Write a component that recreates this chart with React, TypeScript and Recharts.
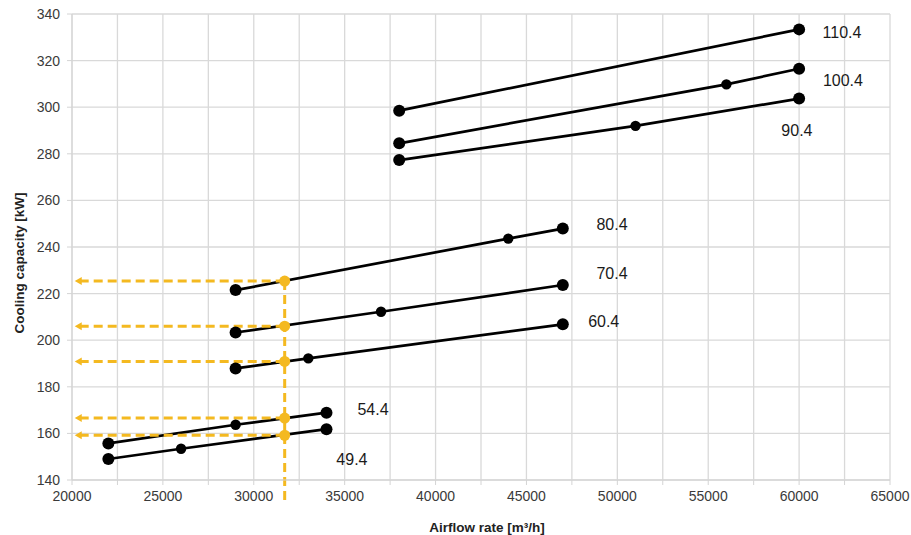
import {
  CartesianGrid,
  Line,
  LineChart,
  ReferenceDot,
  ReferenceLine,
  XAxis,
  YAxis,
} from "recharts";

const FONT = '"Liberation Sans", Arial, sans-serif';
const YELLOW = "#f4b920";

const xTicks = [
  20000, 22500, 25000, 27500, 30000, 32500, 35000, 37500, 40000, 42500, 45000,
  47500, 50000, 52500, 55000, 57500, 60000, 62500, 65000,
];
const yTicks = [140, 160, 180, 200, 220, 240, 260, 280, 300, 320, 340];

// one line per unit size: airflow [m3/h] vs cooling capacity [kW]
const models = ["49.4", "54.4", "60.4", "70.4", "80.4", "90.4", "100.4", "110.4"];
const airflow494 = [22000, 26000, 34000];
const capacity494 = [149, 153.4, 161.8];
const airflow544 = [22000, 29000, 34000];
const capacity544 = [155.7, 163.7, 168.9];
const airflow604 = [29000, 33000, 47000];
const capacity604 = [187.9, 192.2, 206.8];
const airflow704 = [29000, 37000, 47000];
const capacity704 = [203.3, 212.2, 223.7];
const airflow804 = [29000, 44000, 47000];
const capacity804 = [221.5, 243.6, 247.9];
const airflow904 = [38000, 51000, 60000];
const capacity904 = [277.3, 292, 303.7];
const airflow1004 = [38000, 56000, 60000];
const capacity1004 = [284.5, 309.8, 316.5];
const airflow1104 = [38000, 60000];
const capacity1104 = [298.5, 333.4];

const labelX = [35400, 36560, 49250, 49707, 49707, 59880, 62410, 62360];
const labelY = [149, 170.5, 208, 228.7, 249.7, 289.9, 311.7, 332.3];

// selected operating point
const selectedAirflow = 31700;
const selectedCapacities = [225.4, 206, 190.9, 166.6, 159.2];
const arrowTipAirflow = 20150;
const dropLineEnd = 131.4;

const airflows = [
  airflow494, airflow544, airflow604, airflow704,
  airflow804, airflow904, airflow1004, airflow1104,
];
const capacities = [
  capacity494, capacity544, capacity604, capacity704,
  capacity804, capacity904, capacity1004, capacity1104,
];

const series = models.map((name, i) => ({
  name,
  data: airflows[i].map((x, j) => ({ x, y: capacities[i][j] })),
}));

function renderDot(props: any) {
  const { cx, cy, index, points } = props;
  const last = points ? points.length - 1 : 0;
  const r = index === 0 || index === last ? 6 : 5.2;
  return <circle key={`d-${index}-${cx}`} cx={cx} cy={cy} r={r} fill="#000" />;
}

function renderArrow(props: any) {
  const { x1, y1, x2, y2 } = props;
  return (
    <g>
      <line
        x1={x1}
        y1={y1}
        x2={x2 + 5}
        y2={y2}
        stroke={YELLOW}
        strokeWidth={3}
        strokeDasharray="9 5"
      />
      <polygon
        points={`${x2},${y2} ${x2 + 7},${y2 - 4} ${x2 + 7},${y2 + 4}`}
        fill={YELLOW}
      />
    </g>
  );
}

const tickStyle = { fill: "#3a3a3a", fontSize: 14, fontFamily: FONT };

export default function App() {
  return (
    <div style={{ position: "absolute", left: 0, top: 0, background: "#fff" }}>
      <LineChart
        width={911}
        height={535}
        margin={{ top: 14, right: 21, bottom: 0, left: 0 }}
      >
        <CartesianGrid stroke="#d9d9d9" strokeWidth={1.3} />
        <XAxis
          type="number"
          dataKey="x"
          domain={[20000, 65000]}
          ticks={xTicks}
          interval={0}
          height={55}
          tickFormatter={(v: number) => (v % 5000 === 0 ? String(v) : "")}
          tick={tickStyle}
          tickSize={5}
          tickMargin={6}
          tickLine={{ stroke: "#d4d4d4" }}
          axisLine={{ stroke: "#d4d4d4" }}
          label={{
            content: () => (
              <text
                x={487}
                y={527}
                textAnchor="middle"
                dominantBaseline="central"
                fontFamily={FONT}
                fontSize={13.5}
                fontWeight="bold"
                fill="#222"
              >
                Airflow rate [m³/h]
              </text>
            ),
          }}
        />
        <YAxis
          type="number"
          dataKey="y"
          domain={[140, 340]}
          ticks={yTicks}
          interval={0}
          width={72}
          tick={tickStyle}
          tickSize={5}
          tickMargin={7}
          tickLine={{ stroke: "#d4d4d4" }}
          axisLine={{ stroke: "#d4d4d4" }}
          label={{
            content: () => (
              <text
                x={19}
                y={263}
                transform="rotate(-90 19 263)"
                textAnchor="middle"
                dominantBaseline="central"
                fontFamily={FONT}
                fontSize={13.5}
                fontWeight="bold"
                fill="#222"
              >
                Cooling capacity [kW]
              </text>
            ),
          }}
        />

        {series.map((s) => (
          <Line
            key={s.name}
            data={s.data}
            dataKey="y"
            type="linear"
            stroke="#000"
            strokeWidth={2.7}
            dot={renderDot}
            activeDot={false}
            legendType="none"
            isAnimationActive={false}
          />
        ))}

        <ReferenceLine
          segment={[
            { x: selectedAirflow, y: selectedCapacities[0] },
            { x: selectedAirflow, y: dropLineEnd },
          ]}
          stroke={YELLOW}
          strokeWidth={3}
          strokeDasharray="9 5"
          ifOverflow="visible"
        />
        {selectedCapacities.map((v) => (
          <ReferenceLine
            key={`arrow-${v}`}
            segment={[
              { x: selectedAirflow, y: v },
              { x: arrowTipAirflow, y: v },
            ]}
            shape={renderArrow}
            ifOverflow="visible"
          />
        ))}

        {selectedCapacities.map((v) => (
          <ReferenceDot
            key={`sel-${v}`}
            x={selectedAirflow}
            y={v}
            r={5.5}
            fill={YELLOW}
            stroke="none"
          />
        ))}

        {models.map((name, i) => (
          <ReferenceDot
            key={`lbl-${name}`}
            x={labelX[i]}
            y={labelY[i]}
            r={1}
            fill="none"
            stroke="none"
            label={{
              value: name,
              position: "center",
              fill: "#1a1a1a",
              fontSize: 16,
              fontFamily: FONT,
            }}
          />
        ))}
      </LineChart>
    </div>
  );
}
